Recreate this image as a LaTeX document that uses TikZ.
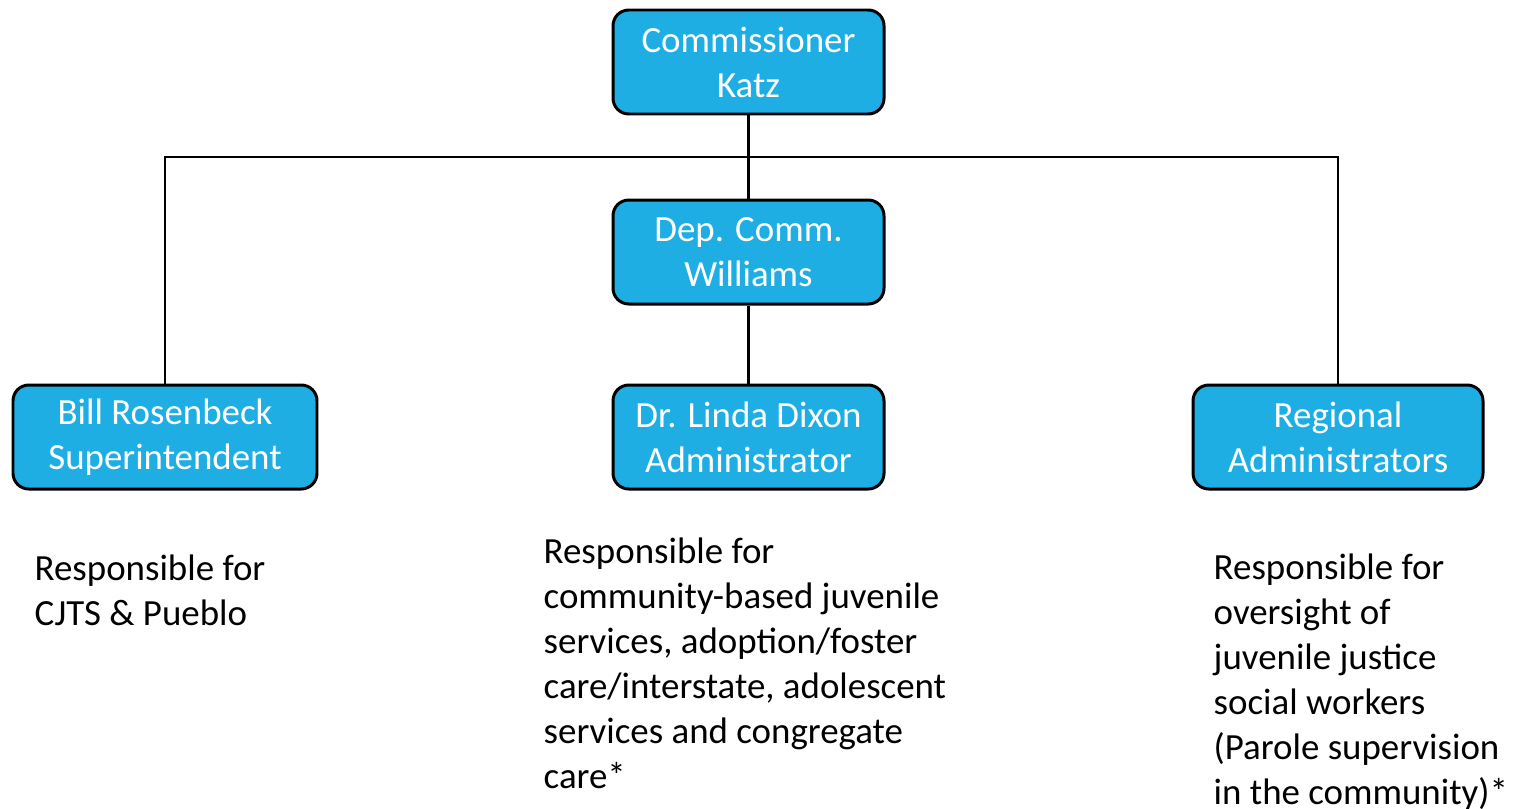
\documentclass[tikz,border=0pt]{standalone}
\usepackage{fontspec}
\setmainfont{Carlito}
\usepackage{tikz}
\usetikzlibrary{positioning}
\definecolor{boxblue}{HTML}{1FAEE3}

\begin{document}
\begin{tikzpicture}[node distance={19mm},
    main/.style = {draw, line width=0.85pt, rounded corners=4.5pt, fill=boxblue, text=white,
        minimum height=1.04cm, align=center, inner sep=0pt,
        font=\fontsize{10.5pt}{12.8pt}\selectfont},
    note/.style = {align=left, inner sep=0pt, anchor=base west,
        font=\fontsize{10.5pt}{12.8pt}\selectfont},
    link/.style = {line width=0.6pt}]
    \useasboundingbox (0,0) rectangle (15.13,-8.08);

    \node[main, minimum width=2.71cm] (Katz) at (7.485,-0.62) {Commissioner\\Katz};
    \node[main, minimum width=2.71cm] (Williams) [below of=Katz] {Dep. Comm.\\Williams};
    \node[main, minimum width=2.71cm] (Dixon) [below of=Williams, node distance=18.5mm] {Dr. Linda Dixon\\Administrator};
    \node[main, minimum width=3.04cm] (Bill) at (1.65,-4.37) {Bill Rosenbeck\\Superintendent};
    \node[main, minimum width=2.90cm] (Regional) at (13.38,-4.37) {Regional\\Administrators};

    \coordinate (split) at (7.485,-1.57);

    \draw[link] (Katz) -- (Williams);
    \draw[link] (Williams) -- (Dixon);
    \draw[link] (Bill.north) |- (split) -| (Regional.north);

    % duties under each box (placed by the baseline of the last line)
    \node[note] (billnote) at (0.34,-6.25) {Responsible for\\CJTS \& Pueblo};
    \node[note] (dixonnote) at (5.43,-7.88) {Responsible for\\community-based juvenile\\services, adoption/foster\\care/interstate, adolescent\\services and congregate\\care*};
    \node[note] (regionalnote) at (12.13,-8.04) {Responsible for\\oversight of\\juvenile justice\\social workers\\(Parole supervision\\in the community)*};
\end{tikzpicture}
\end{document}
